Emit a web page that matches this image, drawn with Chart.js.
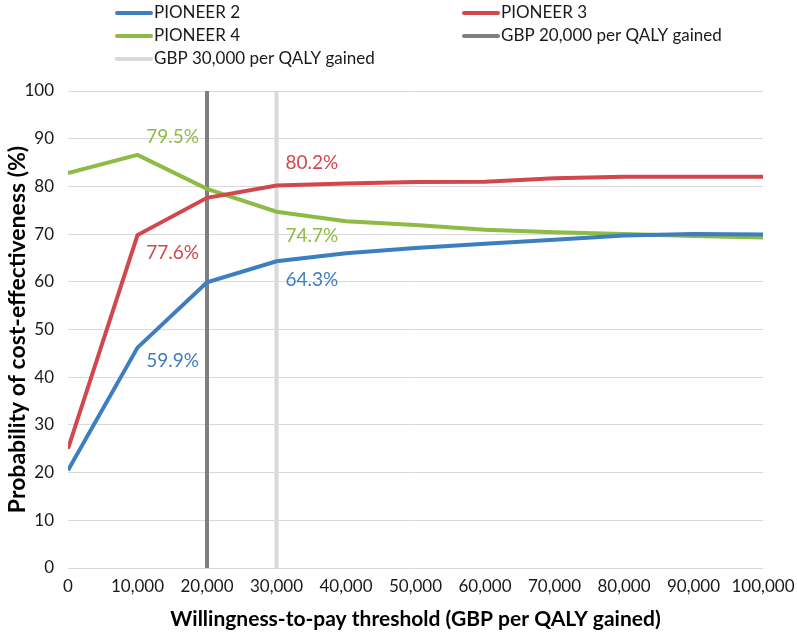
<!DOCTYPE html>
<html>
<head>
<meta charset="utf-8">
<script src="https://cdn.jsdelivr.net/npm/chart.js@4.4.0/dist/chart.umd.min.js"></script>
<style>
    html, body { margin: 0; padding: 0; background: #fff; }
    #wrap { width: 797px; height: 633px; }
</style>
</head>
<body>
<div id="wrap"><canvas id="myChart" width="797" height="633"></canvas></div>
<script>
// willingness-to-pay thresholds (GBP)
let thresholds = [0, 10000, 20000, 30000, 40000, 50000, 60000, 70000, 80000, 90000, 100000];
let pioneer2 = [20.5, 46.2, 59.9, 64.3, 66.0, 67.1, 68.0, 68.8, 69.7, 70.0, 69.9];
let pioneer3 = [25.0, 69.8, 77.6, 80.2, 80.6, 80.9, 81.0, 81.7, 82.0, 82.0, 82.0];
let pioneer4 = [82.8, 86.6, 79.5, 74.7, 72.7, 71.9, 70.9, 70.4, 70.0, 69.6, 69.3];
let gbp20 = 20000;
let gbp30 = 30000;
let yTicks = [0, 10, 20, 30, 40, 50, 60, 70, 80, 90, 100];

let font = 'Lato, "Open Sans", sans-serif';

function pts(vals) {
    return thresholds.map((t, i) => ({ x: t, y: vals[i] }));
}

// value labels next to the 20,000 and 30,000 points
let valueLabels = {
    id: 'valueLabels',
    afterDatasetsDraw(chart) {
        let c = chart.ctx;
        let xs = chart.scales.x;
        let ys = chart.scales.y;
        let marks = [
            { ds: 2, i: 2, dx: -8, dy: -52, align: 'right' },
            { ds: 1, i: 2, dx: -8, dy: 55, align: 'right' },
            { ds: 0, i: 2, dx: -8, dy: 79, align: 'right' },
            { ds: 1, i: 3, dx: 9, dy: -23, align: 'left' },
            { ds: 2, i: 3, dx: 9, dy: 24, align: 'left' },
            { ds: 0, i: 3, dx: 9, dy: 19, align: 'left' }
        ];
        c.save();
        c.font = '19px ' + font;
        c.textBaseline = 'middle';
        marks.forEach(m => {
            let d = chart.data.datasets[m.ds];
            let p = d.data[m.i];
            c.fillStyle = d.borderColor;
            c.textAlign = m.align;
            c.fillText(p.y.toFixed(1) + '%', xs.getPixelForValue(p.x) + m.dx, ys.getPixelForValue(p.y) + m.dy);
        });
        c.restore();
    }
};

// two column legend on top
let topLegend = {
    id: 'topLegend',
    afterDraw(chart) {
        let c = chart.ctx;
        let cols = [115, 462];
        let rows = [13, 36, 59];
        c.save();
        c.font = '17px ' + font;
        c.textBaseline = 'middle';
        c.textAlign = 'left';
        chart.data.datasets.forEach((d, k) => {
            let x = cols[k % 2];
            let y = rows[Math.floor(k / 2)];
            c.strokeStyle = d.borderColor;
            c.lineWidth = 4;
            c.lineCap = 'round';
            c.beginPath();
            c.moveTo(x + 2, y);
            c.lineTo(x + 36, y);
            c.stroke();
            c.fillStyle = '#1a1a1a';
            c.fillText(d.label, x + 39, y);
        });
        c.restore();
    }
};

let ctx = document.getElementById('myChart').getContext('2d');
let myChart = new Chart(ctx, {
    type: 'line',
    data: {
        datasets: [{
            label: 'PIONEER 2',
            data: pts(pioneer2),
            borderColor: '#3d7ec0',
            borderWidth: 4,
            pointRadius: 0,
            tension: 0
        }, {
            label: 'PIONEER 3',
            data: pts(pioneer3),
            borderColor: '#d1474c',
            borderWidth: 4,
            pointRadius: 0,
            tension: 0
        }, {
            label: 'PIONEER 4',
            data: pts(pioneer4),
            borderColor: '#8dbb45',
            borderWidth: 4,
            pointRadius: 0,
            tension: 0
        }, {
            label: 'GBP 20,000 per QALY gained',
            data: [{ x: gbp20, y: 0 }, { x: gbp20, y: 100 }],
            borderColor: '#7f7f7f',
            borderWidth: 4,
            pointRadius: 0
        }, {
            label: 'GBP 30,000 per QALY gained',
            data: [{ x: gbp30, y: 0 }, { x: gbp30, y: 100 }],
            borderColor: '#d9d9d9',
            borderWidth: 4,
            pointRadius: 0
        }]
    },
    options: {
        responsive: false,
        animation: false,
        layout: { padding: { top: 91, right: 34, left: 0, bottom: 3 } },
        plugins: {
            legend: { display: false },
            tooltip: { enabled: false }
        },
        scales: {
            x: {
                type: 'linear',
                min: 0,
                max: 100000,
                grid: { display: false },
                border: { display: false },
                afterBuildTicks: (s) => { s.ticks = thresholds.map(v => ({ value: v })); },
                ticks: {
                    color: '#1a1a1a',
                    font: { family: font, size: 17 },
                    maxRotation: 0,
                    padding: 0,
                    callback: (v) => v.toLocaleString('en-US')
                },
                title: {
                    display: true,
                    text: 'Willingness-to-pay threshold (GBP per QALY gained)',
                    color: '#000',
                    font: { family: font, size: 21, weight: 'bold' },
                    padding: { top: 4, bottom: -2 }
                },
                afterFit: (s) => { s.height = 62; }
            },
            y: {
                min: 0,
                max: 100,
                afterBuildTicks: (s) => { s.ticks = yTicks.map(v => ({ value: v })); },
                grid: { color: '#d9d9d9', lineWidth: 1, drawTicks: false },
                border: { display: false },
                ticks: {
                    color: '#1a1a1a',
                    font: { family: font, size: 17 },
                    padding: 14
                },
                title: {
                    display: true,
                    text: 'Probability of cost-effectiveness (%)',
                    color: '#000',
                    font: { family: font, size: 23, weight: 'bold' },
                    padding: { bottom: 4 }
                },
                afterFit: (s) => { s.width = 68; }
            }
        }
    },
    plugins: [valueLabels, topLegend]
});
</script>
</body>
</html>
